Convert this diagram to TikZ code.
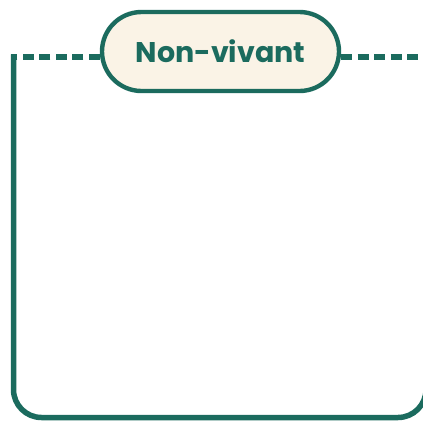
\documentclass[tikz,border=0pt]{standalone}
\usepackage{fontspec}
\setmainfont{Poppins}
\usetikzlibrary{shapes.misc}
\definecolor{tealdark}{RGB}{27,107,94}
\definecolor{creamfill}{RGB}{250,243,230}
\begin{document}
\begin{tikzpicture}[x=1pt,y=-1pt,
  pill/.style={rounded rectangle, draw=tealdark, fill=creamfill, line width=4.4pt,
    minimum width=237pt, minimum height=79pt, inner sep=0pt,
    text=tealdark, font=\fontsize{28.5}{32}\selectfont\bfseries},
  framesolid/.style={draw=tealdark, line width=5.5pt},
  framedash/.style={draw=tealdark, line width=5.5pt, dash pattern=on 11pt off 5.5pt}]
\useasboundingbox (0,0) rectangle (423,421);
\coordinate (tl) at (13.5,57);
\coordinate (bl) at (13.5,417.5);
\coordinate (br) at (426,417.5);
\coordinate (tr) at (426,57);
\node[pill] (nv) at (220.5,51.5) {Non-vivant};
\draw[framesolid, rounded corners=28pt] ([yshift=2.75pt]tl) -- (bl) -- (br) -- (tr);
\draw[framedash] (nv.west |- tl) -- ([xshift=-2.75pt]tl);
\draw[framedash] (nv.east |- tr) -- (tr);
\end{tikzpicture}
\end{document}
